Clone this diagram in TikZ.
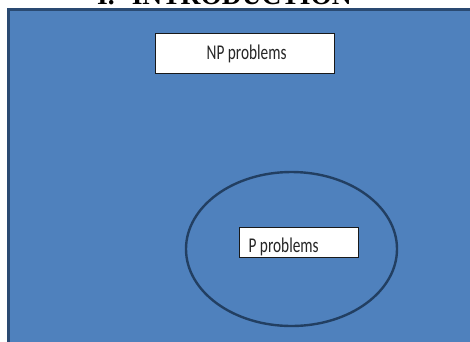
\documentclass[tikz,border=0pt]{standalone}
\usepackage{fontspec}
\setmainfont{Liberation Serif}
\newfontfamily\labelfont[FakeStretch=0.73]{Carlito}
\setlength{\parindent}{0pt}
\definecolor{bgblue}{HTML}{4F81BD}
\definecolor{frameblue}{HTML}{2A4A72}
\definecolor{ringblue}{HTML}{223F62}
\tikzset{
  labelbox/.style={draw=black!90, line width=1.2pt, fill=white, inner sep=0pt, font=\labelfont\fontsize{21}{24}\selectfont, text=black!85},
  setring/.style={ellipse, draw=ringblue, line width=2.4pt, inner sep=0pt},
}
\usetikzlibrary{shapes.geometric}
\begin{document}
\begin{tikzpicture}[x=1pt,y=-1pt]
\useasboundingbox (0,0) rectangle (470,341);
\clip (0,0) rectangle (470,341);
% heading (cut off at top, as in the reference)
\node[anchor=base west, inner sep=0pt, font=\bfseries\fontsize{27.5}{30}\selectfont] (head) at (97,4.5) {I.\hspace{17pt}INTRODUCTION};
% background universe
\draw[fill=bgblue, draw=frameblue, line width=3pt] (8.5,9.5) rectangle (480,350);
% NP box: 155..334 x 33..73, baseline 59
\node[labelbox, text height=26pt, text depth=14pt, anchor=north west] (np) at (155,33) {\makebox[179pt][l]{\hspace{51pt}NP problems}};
% P ellipse
\node[setring, minimum width=211pt, minimum height=154pt] (pset) at (291.5,249) {};
% P box: 239..358 x 227..257, baseline 252
\node[labelbox, text height=25pt, text depth=5pt, anchor=north west] (p) at (239,227) {\makebox[119pt][l]{\hspace{9pt}P problems}};
\end{tikzpicture}
\end{document}
